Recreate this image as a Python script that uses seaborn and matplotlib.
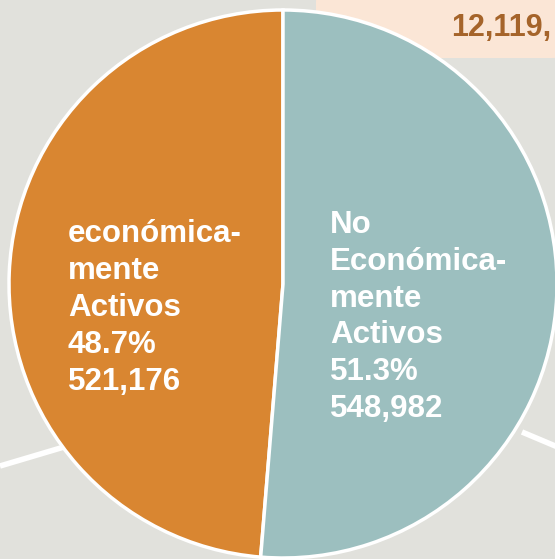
import matplotlib.pyplot as plt
import matplotlib as mpl
import seaborn as sns
from matplotlib.patches import FancyBboxPatch

# --------------------------------------------------------------
# Data
# --------------------------------------------------------------

labels = ["económica-\nmente\nActivos", "No\nEconómica-\nmente\nActivos"]
values = [521176, 548982]
colors = ["#d98631", "#9cbfbf"]
box_text = "12,119,"

# --------------------------------------------------------------
# Settings
# --------------------------------------------------------------

sns.set_theme(style="white")
plt.rcParams["font.family"] = ["Liberation Sans", "DejaVu Sans"]
bg = "#e1e1dc"

fig = plt.figure(figsize=(5.55, 5.59), dpi=100)
fig.patch.set_facecolor(bg)
ax = fig.add_axes([0, 0, 1, 1])
ax.set_facecolor(bg)

# peach box in the top right corner
box = FancyBboxPatch((316, 501), 260, 80, boxstyle="round,pad=0,rounding_size=24",
                     facecolor="#fbe6d6", edgecolor="none", zorder=0)
ax.add_patch(box)
ax.text(451, 531, box_text, color="#a5642a", fontsize=22, fontweight="bold",
        ha="left", va="center", zorder=1)

# white leader lines behind the pie
ax.plot([0, 64], [93, 112], color="white", lw=4, solid_capstyle="butt", zorder=1)
ax.plot([522, 560], [127, 111], color="white", lw=4, solid_capstyle="butt", zorder=1)

# --------------------------------------------------------------
# Pie
# --------------------------------------------------------------

wedges, _ = ax.pie(
    values,
    colors=colors,
    startangle=90,
    center=(283, 275),
    radius=274,
    wedgeprops=dict(edgecolor="white", linewidth=2.5),
    frame=True,
)
for w in wedges:
    w.set_zorder(2)
ax.set_xlim(0, 555)
ax.set_ylim(0, 559)
ax.set_aspect("equal")
ax.axis("off")

total = sum(values)
pos = [(68, 251), (330, 242)]
for lab, val, (x, y) in zip(labels, values, pos):
    txt = f"{lab}\n{val / total * 100:.1f}%\n{val:,}"
    ax.text(x, y, txt, color="white", fontsize=22.5, fontweight="bold",
            ha="left", va="center", linespacing=1.3, zorder=3)

plt.savefig("out.png", dpi=100, facecolor=bg)
